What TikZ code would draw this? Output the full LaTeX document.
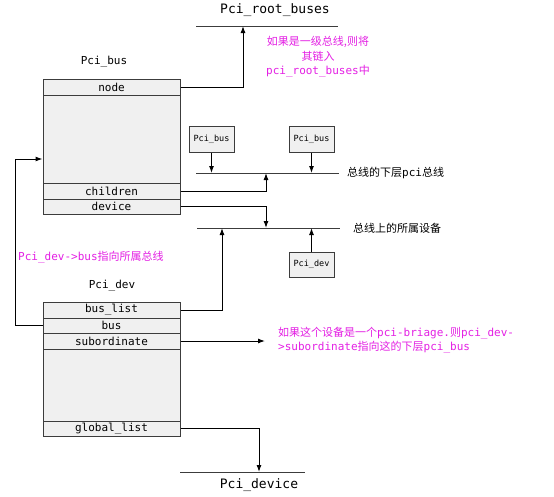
\documentclass[tikz,border=0pt]{standalone}
\usepackage{fontspec}
\setmonofont{DejaVu Sans Mono}
\newfontfamily\cjk{Noto Sans CJK SC}
\usetikzlibrary{arrows.meta}
\definecolor{mag}{RGB}{228,32,228}
\definecolor{edge}{RGB}{60,60,60}
\definecolor{boxfill}{RGB}{240,240,240}
\tikzset{
  rowbox/.style={draw=edge, fill=boxfill, line width=1pt, minimum width=137pt, minimum height=16pt, inner sep=0pt, font=\ttfamily\fontsize{11}{11}\selectfont},
  bodybox/.style={draw=edge, fill=boxfill, line width=1pt, minimum width=137pt, inner sep=0pt},
  smallbox/.style={draw=edge, fill=boxfill, line width=1pt, minimum width=45pt, minimum height=26pt, inner sep=0pt, font=\ttfamily\fontsize{8.5}{9}\selectfont},
  busline/.style={line width=1pt, draw=edge},
  arr/.style={line width=1pt, draw=black, -{Latex[length=7pt,width=5pt]}},
  title/.style={font=\ttfamily\fontsize{11}{11}\selectfont, inner sep=0pt},
  bigtitle/.style={font=\ttfamily\fontsize{13}{13}\selectfont, inner sep=0pt},
  note/.style={text=mag, font=\ttfamily\fontsize{11}{14.5}\selectfont, inner sep=0pt},
  blacknote/.style={font=\ttfamily\fontsize{11}{14}\selectfont, inner sep=0pt}
}
\begin{document}
\begin{tikzpicture}[x=1pt,y=-1pt]
\fill[white] (0,0) rectangle (554,496);
\useasboundingbox (0,0) rectangle (554,496);

% ---------- titles ----------
\node[bigtitle] (roottitle) at (275,10) {Pci\_root\_buses};
\node[title] (bustitle) at (104,62) {Pci\_bus};
\node[title] (devtitle) at (112,286) {Pci\_dev};
\node[bigtitle] (devicetitle) at (259,485) {Pci\_device};

% ---------- Pci_bus structure ----------
\node[bodybox, minimum height=135pt] (busbox) at (111.5,146.5) {};
\node[rowbox] (busnode) at (111.5,87) {node};
\node[rowbox] (buschildren) at (111.5,191) {children};
\node[rowbox, minimum height=15pt] (busdevice) at (111.5,206.5) {device};

% ---------- Pci_dev structure ----------
\node[bodybox, minimum height=134pt] (devbox) at (111.5,369) {};
\node[rowbox] (devbuslist) at (111.5,310) {bus\_list};
\node[rowbox, minimum height=15pt] (devbus) at (111.5,325.5) {bus};
\node[rowbox] (devsub) at (111.5,341) {subordinate};
\node[rowbox, minimum height=15pt] (devglobal) at (111.5,428.5) {global\_list};

% ---------- small boxes ----------
\node[smallbox] (childA) at (211.5,139) {Pci\_bus};
\node[smallbox] (childB) at (311.5,139) {Pci\_bus};
\node[smallbox, minimum height=25pt] (devA) at (311.5,264.5) {Pci\_dev};

% ---------- bus lines ----------
\coordinate (rootL) at (196,26);
\coordinate (rootR) at (338,26);
\coordinate (childL) at (196,173);
\coordinate (childR) at (339,173);
\coordinate (devL) at (197,228);
\coordinate (devR) at (340,228);
\coordinate (allL) at (180,472);
\coordinate (allR) at (305,472);
\draw[busline] (rootL) -- (rootR);
\draw[busline] (childL) -- (childR);
\draw[busline] (devL) -- (devR);
\draw[busline] (allL) -- (allR);

% ---------- arrow end points ----------
\coordinate (rootIn) at (243,26);
\coordinate (childAIn) at (211.5,173);
\coordinate (childBIn) at (311.5,173);
\coordinate (childIn) at (266,173);
\coordinate (devIn) at (266,228);
\coordinate (listIn) at (222,228);
\coordinate (devAIn) at (311.5,228);
\coordinate (loop) at (15,159);
\coordinate (subEnd) at (265,341);
\coordinate (allIn) at (259,472);

% ---------- connectors ----------
\draw[arr] (busnode.east) -| (rootIn);
\draw[arr] (childA.south) -- (childAIn);
\draw[arr] (childB.south) -- (childBIn);
\draw[arr] (buschildren.east) -| (childIn);
\draw[arr] (busdevice.east) -| (devIn);
\draw[arr] (devbuslist.east) -| (listIn);
\draw[arr] (devA.north) -- (devAIn);
\draw[arr] (devbus.west) -| (loop) -- (loop -| busbox.west);
\draw[arr] (devsub.east) -- (subEnd);
\draw[arr] (devglobal.east) -| (allIn);

% ---------- labels ----------
\node[blacknote, anchor=west] (childlbl) at (347,173) {{\cjk 总线的下层}pci{\cjk 总线}};
\node[blacknote, anchor=west] (devlbl) at (353,228) {{\cjk 总线上的所属设备}};
\node[note, align=center] (rootnote) at (318,57) {{\cjk 如果是一级总线,则将}\\{\cjk 其链入}\\pci\_root\_buses{\cjk 中}};
\node[note, anchor=west] (busnote) at (18,257) {Pci\_dev->bus{\cjk 指向所属总线}};
\node[note, align=left, anchor=west] (subnote) at (278,340) {{\cjk 如果这个设备是一个}pci-briage.{\cjk 则}pci\_dev-\\>subordinate{\cjk 指向这的下层}pci\_bus};
\end{tikzpicture}
\end{document}
